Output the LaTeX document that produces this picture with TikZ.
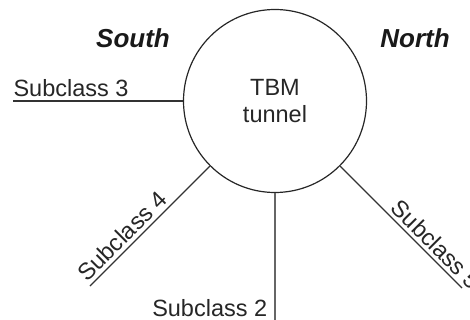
\documentclass[tikz,border=0pt]{standalone}
\usepackage{fontspec}
\setmainfont{Liberation Sans}
\begin{document}
\begin{tikzpicture}[x=1pt,y=-1pt,
  lbl/.style={font=\fontsize{23.5}{27}\selectfont, text=black!85, inner xsep=0pt, inner ysep=3.5pt},
  side/.style={font=\fontsize{26}{30}\selectfont\bfseries\itshape, text=black!90, inner sep=0pt},
  conn/.style={line width=1.1pt, draw=black!80}]
\useasboundingbox (0,0) rectangle (470,320);
\node[circle, draw=black!85, line width=1.2pt, minimum size=183pt, inner sep=0pt,
      align=center, font=\fontsize{23.5}{27}\selectfont, text=black!85] (tbm) at (275,101) {TBM\\tunnel};
\coordinate (c3) at (13,101);
\coordinate (c4) at (90,286);
\coordinate (c2) at (275,320);
\coordinate (c5) at (462,288);
\draw[conn] (c3) -- node[lbl, pos=0, anchor=south west] {Subclass 3} (tbm.west);
\draw[conn] (c4) -- node[lbl, pos=0, sloped, anchor=south west] {Subclass 4} (tbm.225);
\draw[conn] (tbm.-45) -- node[lbl, pos=0.38, sloped, anchor=south west] {Subclass 5} (c5);
\draw[conn, draw=black!60, line width=1.6pt] (tbm.south) -- (c2)
  node[lbl, anchor=base east, xshift=-7pt, yshift=4pt] {Subclass 2};
\node[side, anchor=base] (south) at (133,48) {South};
\node[side, anchor=base] (north) at (415,48) {North};
\end{tikzpicture}
\end{document}
